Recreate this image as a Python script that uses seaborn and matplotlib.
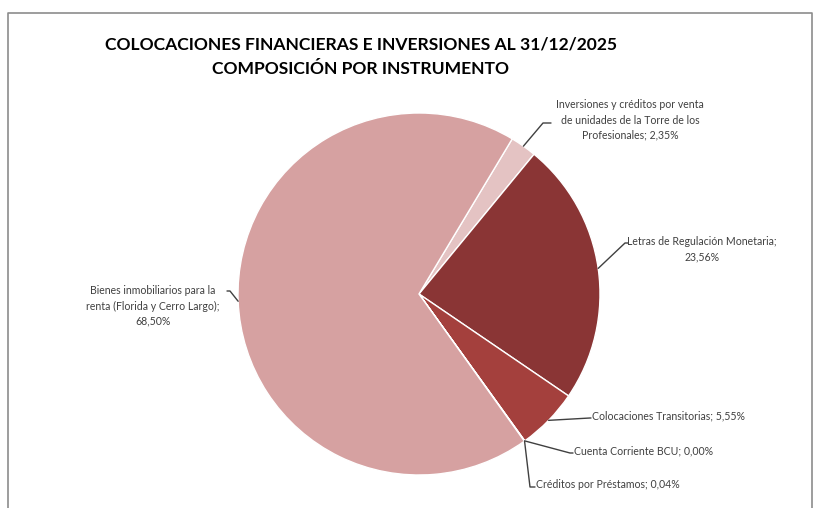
import numpy as np
import seaborn as sns
import matplotlib.pyplot as plt
from matplotlib.lines import Line2D

sns.set_style('white')
plt.rcParams['font.family'] = ['Lato', 'DejaVu Sans']

# clockwise from the first slice
categories = [
    'Inversiones y créditos por venta\nde unidades de la Torre de los\nProfesionales',
    'Letras de Regulación Monetaria;\n',
    'Colocaciones Transitorias',
    'Cuenta Corriente BCU',
    'Créditos por Préstamos',
    'Bienes inmobiliarios para la\nrenta (Florida y Cerro Largo);\n',
]
shares = [2.35, 23.56, 5.55, 0.00, 0.04, 68.50]
colors = ['#E4C3C3', '#8A3535', '#A4403D', '#A4403D', '#B04848', '#D6A1A1']

W, H = 815, 508
fig = plt.figure(figsize=(W / 100, H / 100), dpi=100)

# pie centre (419, 294) px from top, radius 181 px
cx, cy, r = 419, 294, 181
ax = fig.add_axes([(cx - r) / W, (H - cy - r) / H, 2 * r / W, 2 * r / H])
wedges, _ = ax.pie(shares, colors=colors, startangle=59, counterclock=False,
                   radius=1, wedgeprops=dict(edgecolor='white', linewidth=1))
ax.set_xlim(-1, 1)
ax.set_ylim(-1, 1)
ax.set_aspect('equal')
ax.axis('off')

# chart frame
fig.add_artist(Line2D([8, 8, 812, 812], [0, H - 13, H - 13, 0], transform=None,
                      color='#8c8c8c', linewidth=1.2))

fig.text(361 / W, 1 - 44 / H, 'COLOCACIONES FINANCIERAS E INVERSIONES AL 31/12/2025',
         ha='center', va='center', fontsize=12.6, fontweight='bold', color='black')
fig.text(361 / W, 1 - 69 / H, 'COMPOSICIÓN POR INSTRUMENTO',
         ha='center', va='center', fontsize=12.6, fontweight='bold', color='black')


def label_text(name, v):
    pct = f'{v:.2f}'.replace('.', ',') + '%'
    if name.endswith('\n'):
        return name + pct
    return f'{name}; {pct}'


# label layout: (elbow, end of leader, text anchor, ha) in px from top
layout = [
    ((543, 123), (551, 123), (630, 120), 'center'),
    ((625, 243), (628, 243), (702, 249), 'center'),
    ((590, 418), (591, 418), (592, 416), 'left'),
    ((570, 453), (573, 453), (574, 451), 'left'),
    ((530, 487), (535, 487), (536, 484), 'left'),
    ((230, 291), (227, 291), (153, 306), 'center'),
]

for w, name, v, (elb, end, txt, ha) in zip(wedges, categories, shares, layout):
    mid = np.deg2rad((w.theta1 + w.theta2) / 2)
    px, py = ax.transData.transform((np.cos(mid), np.sin(mid)))
    fig.add_artist(Line2D([px, elb[0], end[0]], [py, H - elb[1], H - end[1]],
                          transform=None, color='#404040', linewidth=1))
    fig.text(txt[0] / W, 1 - txt[1] / H, label_text(name, v), ha=ha, va='center',
             multialignment='center', fontsize=7.6, color='#404040', linespacing=1.45)

fig.savefig('out.png', dpi=100)
